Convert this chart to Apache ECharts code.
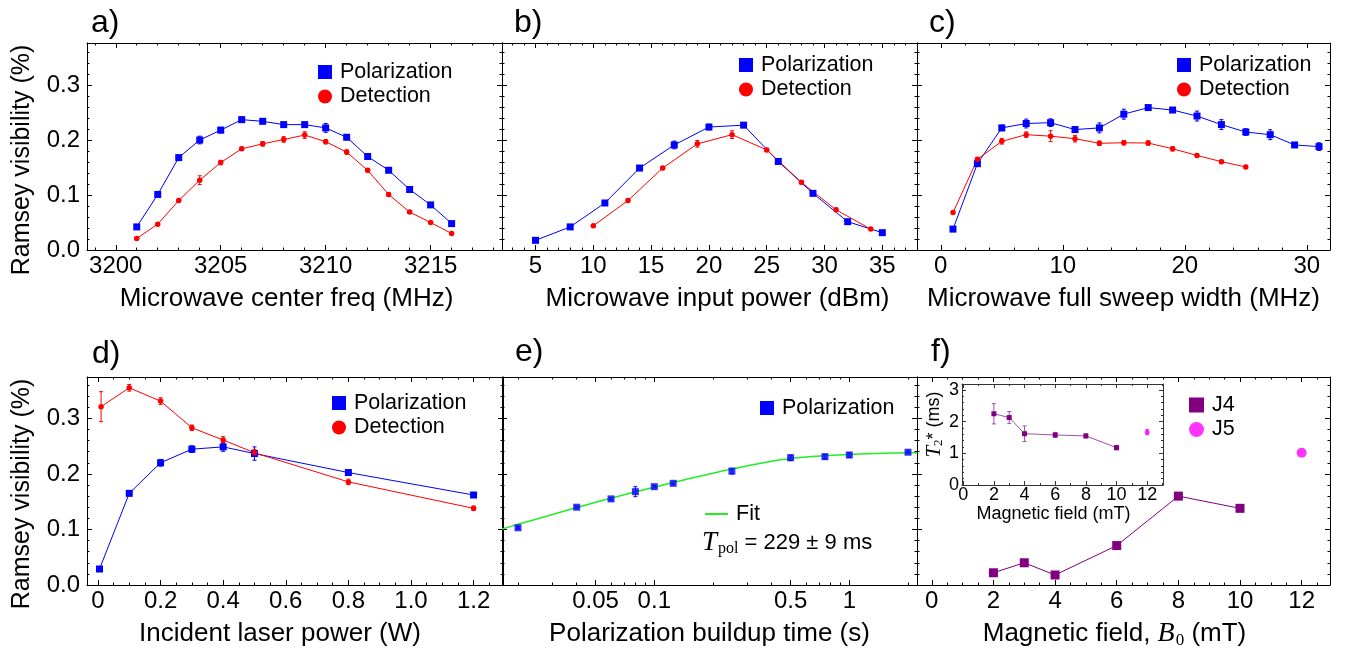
<!DOCTYPE html>
<html>
<head>
<meta charset="utf-8">
<title>Ramsey visibility</title>
<script src="https://cdn.jsdelivr.net/npm/echarts@6.0.0/dist/echarts.min.js"></script>
<style>
html, body { margin: 0; padding: 0; background: #fff; }
#chart { width: 1354px; height: 656px; }
</style>
</head>
<body>
<div id="chart"></div>
<script>
// ---------- a) microwave center frequency ----------
const freqA = [3201, 3202, 3203, 3204, 3205, 3206, 3207, 3208, 3209, 3210, 3211, 3212, 3213, 3214, 3215, 3216];
const polA = [0.042, 0.101, 0.168, 0.200, 0.218, 0.237, 0.234, 0.228, 0.228, 0.222, 0.205, 0.170, 0.145, 0.110, 0.082, 0.048];
const polErrA = [0.002, 0.003, 0.004, 0.007, 0.005, 0.005, 0.003, 0.003, 0.004, 0.008, 0.003, 0.003, 0.003, 0.002, 0.002, 0.002];
const detA = [0.021, 0.047, 0.090, 0.127, 0.159, 0.184, 0.193, 0.201, 0.209, 0.197, 0.178, 0.145, 0.101, 0.069, 0.050, 0.030];
const detErrA = [0.002, 0.002, 0.003, 0.008, 0.004, 0.003, 0.004, 0.005, 0.006, 0.004, 0.004, 0.003, 0.003, 0.002, 0.002, 0.002];
const ticksA = [3200, 3205, 3210, 3215];

// ---------- b) microwave input power ----------
const powerPolB = [5, 8, 11, 14, 17, 20, 23, 26, 29, 32, 35];
const polB = [0.0176, 0.042, 0.0855, 0.149, 0.191, 0.2236, 0.227, 0.161, 0.103, 0.0515, 0.0315];
const polErrB = [0.002, 0.002, 0.003, 0.003, 0.007, 0.005, 0.004, 0.003, 0.003, 0.002, 0.002];
const powerDetB = [10, 13, 16, 19, 22, 25, 28, 31, 34];
const detB = [0.044, 0.090, 0.149, 0.193, 0.2097, 0.182, 0.123, 0.073, 0.038];
const detErrB = [0.002, 0.003, 0.003, 0.006, 0.007, 0.003, 0.003, 0.003, 0.002];
const ticksB = [5, 10, 15, 20, 25, 30, 35];

// ---------- c) microwave full sweep width ----------
const widthPolC = [1, 3, 5, 7, 9, 11, 13, 15, 17, 19, 21, 23, 25, 27, 29, 31];
const polC = [0.038, 0.157, 0.222, 0.230, 0.2315, 0.219, 0.222, 0.247, 0.259, 0.2545, 0.2436, 0.228, 0.2145, 0.2097, 0.191, 0.188];
const polErrC = [0.003, 0.004, 0.005, 0.008, 0.007, 0.005, 0.009, 0.009, 0.004, 0.004, 0.009, 0.009, 0.006, 0.009, 0.004, 0.007];
const widthDetC = [1, 3, 5, 7, 9, 11, 13, 15, 17, 19, 21, 23, 25];
const detC = [0.068, 0.165, 0.1976, 0.2097, 0.207, 0.2024, 0.194, 0.195, 0.1945, 0.184, 0.172, 0.1606, 0.151];
const detErrC = [0.002, 0.003, 0.005, 0.005, 0.010, 0.006, 0.004, 0.004, 0.004, 0.004, 0.003, 0.003, 0.003];
const ticksC = [0, 10, 20, 30];

// ---------- d) incident laser power ----------
const laserPolD = [0.005, 0.1, 0.2, 0.3, 0.4, 0.5, 0.8, 1.2];
const polD = [0.0288, 0.165, 0.220, 0.2445, 0.2486, 0.2366, 0.2024, 0.162];
const polErrD = [0.002, 0.004, 0.006, 0.006, 0.008, 0.012, 0.003, 0.004];
const laserDetD = [0.01, 0.1, 0.2, 0.3, 0.4, 0.5, 0.8, 1.2];
const detD = [0.321, 0.355, 0.331, 0.283, 0.261, 0.238, 0.1856, 0.138];
const detErrD = [0.027, 0.006, 0.006, 0.005, 0.006, 0.006, 0.005, 0.004];
const ticksD = [0, 0.2, 0.4, 0.6, 0.8, 1.0, 1.2];

// ---------- e) polarization buildup time ----------
const timeE = [0.02, 0.04, 0.06, 0.08, 0.1, 0.125, 0.25, 0.5, 0.75, 1, 2];
const polE = [0.103, 0.140, 0.155, 0.168, 0.177, 0.183, 0.205, 0.229, 0.231, 0.234, 0.239];
const polErrE = [0.002, 0.002, 0.002, 0.009, 0.002, 0.002, 0.005, 0.005, 0.004, 0.004, 0.002];
const fitTimeE = [0.01656, 0.02, 0.03, 0.04, 0.05, 0.06, 0.08, 0.1, 0.125, 0.15, 0.2, 0.25, 0.3, 0.4, 0.5, 0.6, 0.75, 1.0, 1.5, 2.0, 2.224];
const fitVisE = [0.1008, 0.1092, 0.1269, 0.1395, 0.1488, 0.1563, 0.1677, 0.1761, 0.1845, 0.1911, 0.2013, 0.2088, 0.2145, 0.2228, 0.2276, 0.2304, 0.2328, 0.2349, 0.2371, 0.2380, 0.2382];
const ticksE = [0.05, 0.1, 0.5, 1];
const minorTicksE = [0.02, 0.03, 0.04, 0.06, 0.07, 0.08, 0.09, 0.2, 0.3, 0.4, 0.6, 0.7, 0.8, 0.9, 2];

// ---------- f) magnetic field ----------
const fieldJ4 = [2, 3, 4, 6, 8, 10];
const visJ4 = [0.022, 0.040, 0.018, 0.071, 0.160, 0.138];
const fieldJ5 = [12];
const visJ5 = [0.238];
const ticksF = [0, 2, 4, 6, 8, 10, 12];

// inset: T2* against magnetic field
const t2J4 = [2.25, 2.13, 1.62, 1.58, 1.55, 1.18];
const t2ErrJ4 = [0.32, 0.19, 0.245, 0.08, 0.06, 0.07];
const t2J5 = [1.67];
const t2ErrJ5 = [0.08];
const ticksInsetX = [0, 2, 4, 6, 8, 10, 12];
const ticksInsetY = [0, 1, 2, 3];

// shared visibility axis
const ticksVis = [0, 0.1, 0.2, 0.3];

// ---------- styling ----------
const FONT = "'Liberation Sans', Arial, Helvetica, sans-serif";
const SERIF = "'Liberation Serif', 'Times New Roman', serif";
const INK = '#000';
const BLUE = '#0000ff', RED = '#ff0000', GREEN = '#22ee22';
const PURPLE = '#800080', MAGENTA = '#ff00ff', INSET_LINE = '#9a52a8';

function range(a, b, step) {
  const out = [];
  for (let i = 0; a + i * step <= b + 1e-9; i++) out.push(+(a + i * step).toFixed(6));
  return out;
}
function without(list, skip) {
  return list.filter(v => !skip.some(s => Math.abs(s - v) < 1e-9));
}
function pairs(xs, ys) { return xs.map((x, i) => [x, ys[i]]); }
function triples(xs, ys, es) { return xs.map((x, i) => [x, ys[i], es[i]]); }

const grids = [], xAxes = [], yAxes = [];

// One dimension of a framed panel: labelled axis + minor ticks, mirrored on the opposite side.
function axisSet(list, dim, gi, s) {
  const first = list.length;
  const sides = dim === 'x' ? ['bottom', 'top'] : ['left', 'right'];
  const line = { color: s.frame || INK, width: 1 };
  sides.forEach((pos, si) => {
    [s.major, s.minor].forEach((ticks, ti) => {
      const ax = {
        gridIndex: gi, type: s.type || 'value', position: pos,
        min: s.min, max: s.max, silent: true,
        splitLine: { show: false }, minorTick: { show: false },
        axisLine: { show: ti === 0, onZero: false, lineStyle: line },
        axisTick: {
          show: ticks.length > 0, inside: true,
          length: ti === 0 ? (s.tickLen || 5) : (s.minorLen || 2.5),
          customValues: ticks, lineStyle: line
        },
        axisLabel: { show: false }
      };
      if (s.type === 'log') ax.logBase = 10;
      if (si === 0 && ti === 0) {
        if (s.labels) {
          ax.axisLabel = Object.assign({
            show: true, customValues: s.labels,
            formatter: s.fmt || (v => String(v)),
            fontSize: s.labelSize || 24, fontFamily: FONT, color: INK,
            margin: s.margin
          }, dim === 'x' ? { align: 'center', verticalAlign: 'middle' } : { align: 'right', verticalAlign: 'middle' });
        }
        if (s.name) {
          ax.name = s.name;
          ax.nameLocation = 'middle';
          ax.nameGap = s.nameGap;
          ax.nameRotate = s.nameRotate;
          ax.nameTextStyle = Object.assign({
            fontSize: 26, fontFamily: FONT, color: INK, verticalAlign: 'middle', align: 'center'
          }, s.nameStyle || {});
        }
      }
      list.push(ax);
    });
  });
  return first;
}

function addPanel(rect, xs, ys) {
  const gi = grids.length;
  grids.push(Object.assign({
    show: !!rect.fill, backgroundColor: rect.fill || 'transparent', borderWidth: 0,
    containLabel: false, outerBoundsMode: 'none'
  }, rect));
  return { xAxisIndex: axisSet(xAxes, 'x', gi, xs), yAxisIndex: axisSet(yAxes, 'y', gi, ys) };
}

const visMajor = [0, 0.1, 0.2, 0.3];
const visMinor = without(range(0, 0.36, 0.02), visMajor);
const fmtVis = v => v.toFixed(1);
const xNameGap = 49;

const yTop = { min: 0, max: 0.3764, major: visMajor, minor: visMinor };
const yBottom = { min: 0, max: 0.3744, major: visMajor, minor: visMinor };
const yTopLabelled = Object.assign({ labels: ticksVis, fmt: fmtVis, margin: 7 }, yTop);
const yBottomLabelled = Object.assign({ labels: ticksVis, fmt: fmtVis, margin: 7 }, yBottom);

const pA = addPanel({ left: 87, top: 43, width: 415, height: 207 },
  { min: 3198.63, max: 3218.4, major: ticksA, minor: without(range(3199, 3218, 1), ticksA),
    labels: ticksA, margin: 16, name: 'Microwave center freq (MHz)', nameGap: xNameGap,
    nameStyle: { padding: [0, 16, 0, 0] } },
  yTopLabelled);
const pB = addPanel({ left: 502, top: 43, width: 415, height: 207 },
  { min: 2.1, max: 38.0, major: ticksB, minor: without(range(3, 38, 1), ticksB),
    labels: ticksB, margin: 16, name: 'Microwave input power (dBm)', nameGap: xNameGap,
    nameStyle: { padding: [0, 0, 0, 16] } },
  yTop);
const pC = addPanel({ left: 917, top: 43, width: 413, height: 207 },
  { min: -1.95, max: 31.9, major: ticksC, minor: without(range(0, 31, 2), ticksC),
    labels: ticksC, margin: 16, name: 'Microwave full sweep width (MHz)', nameGap: xNameGap },
  yTop);
const pD = addPanel({ left: 87, top: 377, width: 416, height: 208 },
  { min: -0.035, max: 1.294, major: ticksD, minor: without(range(0, 1.25, 0.05), ticksD),
    labels: ticksD, fmt: v => (v === 0 ? '0' : v.toFixed(1)), margin: 16,
    name: 'Incident laser power (W)', nameGap: xNameGap, nameStyle: { padding: [0, 30, 0, 0] } },
  yBottomLabelled);
const pE = addPanel({ left: 502, top: 377, width: 415, height: 208 },
  { type: 'log', min: 0.01656, max: 2.224, major: ticksE, minor: minorTicksE,
    labels: ticksE, margin: 16, name: 'Polarization buildup time (s)', nameGap: xNameGap },
  yBottom);
const pF = addPanel({ left: 917, top: 377, width: 413, height: 208 },
  { min: -0.48, max: 12.92, major: ticksF, minor: without(range(0, 12.5, 0.5), ticksF),
    labels: ticksF, margin: 16, name: 'Magnetic field, {b|B}{s|0} (mT)', nameGap: xNameGap,
    nameStyle: {
      padding: [0, 18, 0, 0], lineHeight: 30,
      rich: {
        b: { fontFamily: SERIF, fontStyle: 'italic', fontSize: 28, lineHeight: 30 },
        s: { fontFamily: SERIF, fontSize: 17, lineHeight: 17, verticalAlign: 'bottom', padding: [13, 0, 0, 1] }
      }
    } },
  yBottom);
const pInset = addPanel({ left: 962, top: 384, width: 201, height: 101, fill: '#fff' },
  { min: -0.08, max: 13.03, major: ticksInsetX, minor: without(range(1, 13, 1), ticksInsetX),
    labels: ticksInsetX, labelSize: 18, margin: 10, tickLen: 4, minorLen: 2, frame: '#333',
    name: 'Magnetic field (mT)', nameGap: 27, nameStyle: { fontSize: 18, padding: [0, 18, 0, 0] } },
  { min: 0, max: 3.19, major: ticksInsetY, minor: without(range(0, 3.1, 0.2), ticksInsetY),
    labels: ticksInsetY, labelSize: 18, margin: 3, tickLen: 4, minorLen: 2, frame: '#333',
    name: '{t|T}{s|2}* (ms)', nameGap: 25, nameRotate: 90,
    nameStyle: {
      fontSize: 18, lineHeight: 22, padding: [0, 0, 0, 20],
      rich: {
        t: { fontFamily: SERIF, fontStyle: 'italic', fontSize: 21, lineHeight: 22 },
        s: { fontFamily: SERIF, fontSize: 13, lineHeight: 13, verticalAlign: 'bottom', padding: [11, 0, 0, 0] }
      }
    } });

// vertical error bars with short caps
function errorBars(color, cap) {
  return function (params, api) {
    const x = api.value(0), y = api.value(1), e = api.value(2);
    const hi = api.coord([x, y + e]);
    const lo = api.coord([x, y - e]);
    const st = { stroke: color, lineWidth: 1 };
    return {
      type: 'group',
      children: [
        { type: 'line', shape: { x1: hi[0], y1: hi[1], x2: lo[0], y2: lo[1] }, style: st },
        { type: 'line', shape: { x1: hi[0] - cap, y1: hi[1], x2: hi[0] + cap, y2: hi[1] }, style: st },
        { type: 'line', shape: { x1: lo[0] - cap, y1: lo[1], x2: lo[0] + cap, y2: lo[1] }, style: st }
      ]
    };
  };
}

const series = [];
function errSeries(name, axes, data, color, cap) {
  series.push(Object.assign({
    type: 'custom', name, data, z: 2, silent: true,
    dimensions: ['x', 'y', 'err'], encode: { x: 0, y: 1 },
    renderItem: errorBars(color, cap)
  }, axes));
}
function lineSeries(name, axes, data, color, symbol, size, lineColor) {
  series.push(Object.assign({
    type: 'line', name, data, symbol, symbolSize: size, z: 3,
    itemStyle: { color, borderWidth: 0 },
    lineStyle: { color: lineColor || color, width: 1 }
  }, axes));
}
function scatterSeries(name, axes, data, color, symbol, size) {
  series.push(Object.assign({
    type: 'scatter', name, data, symbol, symbolSize: size, z: 3,
    itemStyle: { color }
  }, axes));
}

// a
errSeries('Polarization error', pA, triples(freqA, polA, polErrA), BLUE, 2);
errSeries('Detection error', pA, triples(freqA, detA, detErrA), RED, 2);
lineSeries('Polarization', pA, pairs(freqA, polA), BLUE, 'rect', 7);
lineSeries('Detection', pA, pairs(freqA, detA), RED, 'circle', 5.5);
// b
errSeries('Polarization error', pB, triples(powerPolB, polB, polErrB), BLUE, 2);
errSeries('Detection error', pB, triples(powerDetB, detB, detErrB), RED, 2);
lineSeries('Polarization', pB, pairs(powerPolB, polB), BLUE, 'rect', 7);
lineSeries('Detection', pB, pairs(powerDetB, detB), RED, 'circle', 5.5);
// c
errSeries('Polarization error', pC, triples(widthPolC, polC, polErrC), BLUE, 2);
errSeries('Detection error', pC, triples(widthDetC, detC, detErrC), RED, 2);
lineSeries('Polarization', pC, pairs(widthPolC, polC), BLUE, 'rect', 7);
lineSeries('Detection', pC, pairs(widthDetC, detC), RED, 'circle', 5.5);
// d
errSeries('Polarization error', pD, triples(laserPolD, polD, polErrD), BLUE, 2);
errSeries('Detection error', pD, triples(laserDetD, detD, detErrD), RED, 2);
lineSeries('Polarization', pD, pairs(laserPolD, polD), BLUE, 'rect', 7);
lineSeries('Detection', pD, pairs(laserDetD, detD), RED, 'circle', 5.5);
// e
series.push(Object.assign({
  type: 'line', name: 'Fit', data: pairs(fitTimeE, fitVisE), smooth: 0.15,
  symbol: 'none', z: 2, lineStyle: { color: GREEN, width: 1.5 }, itemStyle: { color: GREEN }
}, pE));
errSeries('Polarization error', pE, triples(timeE, polE, polErrE), BLUE, 2);
scatterSeries('Polarization', pE, pairs(timeE, polE), BLUE, 'rect', 7);
// f
lineSeries('J4', pF, pairs(fieldJ4, visJ4), PURPLE, 'rect', 9);
scatterSeries('J5', pF, pairs(fieldJ5, visJ5), MAGENTA, 'circle', 10);
// inset
errSeries('T2* J4 error', pInset, triples(fieldJ4, t2J4, t2ErrJ4), INSET_LINE, 2);
errSeries('T2* J5 error', pInset, triples(fieldJ5, t2J5, t2ErrJ5), MAGENTA, 1.5);
lineSeries('T2* J4', pInset, pairs(fieldJ4, t2J4), PURPLE, 'rect', 5, INSET_LINE);
scatterSeries('T2* J5', pInset, pairs(fieldJ5, t2J5), MAGENTA, 'circle', 5);

const legendText = { fontSize: 21.5, fontFamily: FONT, color: INK, lineHeight: 22, padding: [0, 0, 0, 3] };
function legendAt(left, top, items, extra) {
  return Object.assign({
    left, top, orient: 'vertical', padding: 0, itemGap: 2.5,
    itemWidth: 14, itemHeight: 14, selectedMode: false,
    textStyle: legendText, data: items
  }, extra || {});
}
const pd = [{ name: 'Polarization', icon: 'rect' }, { name: 'Detection', icon: 'circle' }];
const legends = [
  legendAt(318, 61, pd),
  legendAt(739, 54, pd),
  legendAt(1177, 54, pd),
  legendAt(332, 392, pd),
  legendAt(760, 397, [{ name: 'Polarization', icon: 'rect' }]),
  legendAt(705, 503, [{ name: 'Fit', icon: 'rect' }], { itemWidth: 23, itemHeight: 2 }),
  legendAt(1189, 394, [{ name: 'J4', icon: 'rect' }, { name: 'J5', icon: 'circle' }], { itemWidth: 15, itemHeight: 15 })
];

function panelLabel(text, x, y) {
  return { type: 'text', x, y, style: { text, fontSize: 32, fontFamily: FONT, fill: INK, align: 'left', verticalAlign: 'middle' } };
}
function sideTitle(y) {
  return {
    type: 'text', x: 22, y, rotation: Math.PI / 2,
    style: { text: 'Ramsey visibility (%)', fontSize: 25, fontFamily: FONT, fill: INK, align: 'center', verticalAlign: 'middle' }
  };
}
const graphic = [
  panelLabel('a)', 91, 23), panelLabel('b)', 514, 23), panelLabel('c)', 929, 23),
  panelLabel('d)', 92, 354), panelLabel('e)', 515, 352), panelLabel('f)', 931, 352),
  sideTitle(160), sideTitle(494),
  {
    type: 'text', x: 702, y: 543,
    style: {
      text: '{t|T}{s|pol}{n| = 229 ± 9 ms}', fill: INK, align: 'left', verticalAlign: 'middle',
      rich: {
        t: { fontFamily: SERIF, fontStyle: 'italic', fontSize: 27, lineHeight: 28 },
        s: { fontFamily: SERIF, fontSize: 16, lineHeight: 16, verticalAlign: 'bottom', padding: [12, 0, 0, 1] },
        n: { fontFamily: FONT, fontSize: 22, lineHeight: 28 }
      }
    }
  }
];

const chart = echarts.init(document.getElementById('chart'), null, { renderer: 'canvas' });
chart.setOption({
  animation: false,
  backgroundColor: '#fff',
  textStyle: { fontFamily: FONT },
  grid: grids,
  xAxis: xAxes,
  yAxis: yAxes,
  legend: legends,
  series,
  graphic
});
</script>
</body>
</html>
